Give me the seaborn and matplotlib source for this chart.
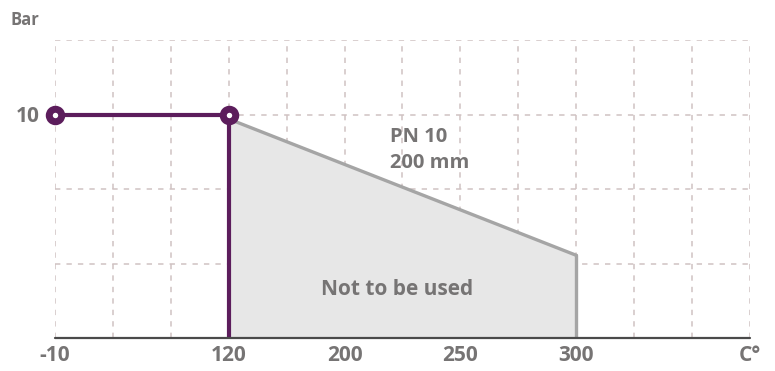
import numpy as np
import pandas as pd
import seaborn as sns
import matplotlib.pyplot as plt

# axis ticks: temperature labels sit on an uneven grid
tick_temps = [-10, 120, 200, 250, 300]
tick_grid = [0, 3, 5, 7, 9]
x_labels = ["-10", "120", "200", "250", "300", "C°"]
x_label_grid = [0, 3, 5, 7, 9, 12]

# purple limit: 10 bar from -10 to 120 C
limit_temp = [-10, 120]
limit_bar = [10, 10]

# grey PN 10 curve
curve_temp = [120, 300]
curve_bar = [9.8, 3.7]

purple = "#5c1d5c"
grey_line = "#a5a5a5"
grey_fill = "#e7e7e7"
grid_col = "#d0c2c2"
text_col = "#767474"

def to_grid(t):
    return np.interp(t, tick_temps, tick_grid)

sns.set_theme(style="white")
plt.rcParams['font.family'] = ['Open Sans', 'DejaVu Sans']

fig = plt.figure(figsize=(7.75, 3.71), dpi=100)
ax = fig.add_axes([55 / 775, 33 / 371, 695 / 775, 298 / 371])

ymax = 40 / 3
ax.set_xlim(0, 12)
ax.set_ylim(0, ymax)

# grid
for gx in range(0, 13):
    ax.plot([gx, gx], [0, ymax], color=grid_col, lw=1.1, ls=(0, (3.5, 4)), zorder=1)
for gy in [10 / 3, 20 / 3, 10, ymax]:
    ax.plot([0, 12], [gy, gy], color=grid_col, lw=1.1, ls=(0, (3.5, 4)), zorder=1)

# not to be used area
cx = to_grid(curve_temp)
ax.fill_between(cx, curve_bar, 0, color=grey_fill, lw=0, zorder=2)
curve = pd.DataFrame({"x": cx, "bar": curve_bar})
sns.lineplot(data=curve, x="x", y="bar", color=grey_line, lw=2.4, ax=ax, zorder=3)
ax.plot([cx[-1], cx[-1]], [0, curve_bar[-1]], color=grey_line, lw=2.4, zorder=3)

# purple limit
lx = to_grid(limit_temp)
limit = pd.DataFrame({"x": lx, "bar": limit_bar})
sns.lineplot(data=limit, x="x", y="bar", color=purple, lw=3, ax=ax, zorder=4)
ax.plot([lx[-1], lx[-1]], [0, limit_bar[-1]], color=purple, lw=3, zorder=4)
ax.plot(lx, limit_bar, ls="none", marker="o", ms=9, mew=5, mec=purple,
        mfc="white", zorder=5, clip_on=False)

# bottom axis
ax.plot([0, 12], [0, 0], color="#4a4a4a", lw=1.6, zorder=6, clip_on=False)

for s in ax.spines.values():
    s.set_visible(False)

ax.set_xticks(x_label_grid)
ax.set_xticklabels(x_labels)
ax.set_yticks([10])
ax.set_yticklabels(["10"])
ax.tick_params(axis="both", length=0, labelsize=15, labelcolor=text_col)
ax.tick_params(axis="x", pad=5)
ax.tick_params(axis="y", pad=11)
for lab in ax.get_xticklabels() + ax.get_yticklabels():
    lab.set_fontweight("bold")
ax.set_xlabel("")
ax.set_ylabel("")

fig.text(11 / 775, 1 - 20 / 371, "Bar", color=text_col, fontsize=12,
         fontweight="bold", va="center", ha="left")

ax.text(5.78, 9.0, "PN 10", color=text_col, fontsize=14.5, fontweight="bold",
        va="center", ha="left")
ax.text(5.78, 7.85, "200 mm", color=text_col, fontsize=14.5, fontweight="bold",
        va="center", ha="left")
ax.text(5.9, 2.18, "Not to be used", color=text_col, fontsize=15,
        fontweight="bold", va="center", ha="center")

fig.savefig("out.png", dpi=100)
